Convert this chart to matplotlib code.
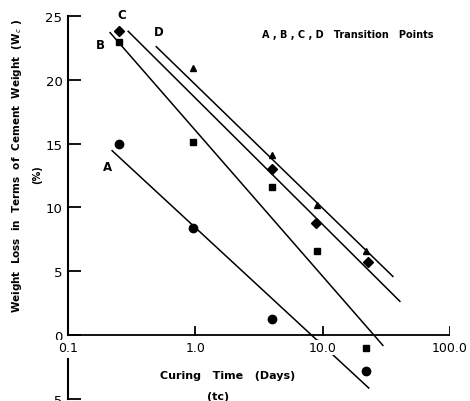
import matplotlib
matplotlib.use("Agg")
import matplotlib.pyplot as plt
import numpy as np

# measured points (curing time in days, weight loss %)
t_a = [0.25, 0.96, 4.0, 9.0, 22.0]
w_a = [15.0, 8.4, 1.3, -0.7, -2.8]
t_b = [0.25, 0.95, 4.0, 9.1, 22.0]
w_b = [23.0, 15.1, 11.6, 6.6, -1.0]
t_c = [0.25, 4.0, 8.9, 22.5]
w_c = [23.8, 13.0, 8.8, 5.7]
t_d = [0.96, 4.0, 9.1, 22.0]
w_d = [20.9, 14.1, 10.2, 6.6]

# fitted lines (end points)
fit_a = ([0.222, 23.0], [14.45, -4.14])
fit_b = ([0.214, 29.7], [23.7, -0.8])
fit_c = ([0.297, 40.4], [23.8, 2.65])
fit_d = ([0.493, 35.6], [22.6, 4.6])

# transition point labels
lab_txt = ["A", "B", "C", "D"]
lab_x = [0.203, 0.179, 0.266, 0.52]
lab_y = [13.2, 22.8, 25.1, 23.8]

xticks = [0.1, 1.0, 10.0, 100.0]
xtick_labels = ["0.1", "1.0", "10.0", "100.0"]
yticks = [-5, 0, 5, 10, 15, 20, 25]

fig = plt.figure(figsize=(4.7, 4.02), dpi=100)
ax = fig.add_axes([0.1447, 0.005, 0.8128, 0.9527])
ax.set_xscale("log")
ax.set_xlim(0.1, 100)
ax.set_ylim(-5, 25)

for fx, fy in [fit_a, fit_b, fit_c, fit_d]:
    ax.plot(fx, fy, color="black", lw=1.1, clip_on=False)

ax.plot(t_a, w_a, "o", color="black", ms=6, clip_on=False)
ax.plot(t_b, w_b, "s", color="black", ms=4.5, clip_on=False)
ax.plot(t_c, w_c, "D", color="black", ms=4.8, clip_on=False)
ax.plot(t_d, w_d, "^", color="black", ms=4.5, clip_on=False)

for s, x, y in zip(lab_txt, lab_x, lab_y):
    ax.text(x, y, s, fontsize=8.5, fontweight="bold", ha="center", va="center")

ax.text(15.7, 23.6, "A , B , C , D   Transition   Points", fontsize=7,
        fontweight="bold", ha="center", va="center")

# axes: left spine with a gap below zero, x axis drawn at y = 0
for side in ["top", "right", "bottom", "left"]:
    ax.spines[side].set_visible(False)
ax.axhline(0, color="black", lw=1.3)
ax.plot([0.1, 0.1], [0, 25], color="black", lw=1.5, clip_on=False)
ax.plot([0.1, 0.1], [-1.9, -5], color="black", lw=1.5, clip_on=False)

ax.set_yticks(yticks)
ax.set_yticklabels([str(v) for v in yticks])
ax.tick_params(axis="y", direction="in", length=9, width=1.3, labelsize=9.5, pad=4)
ax.set_xticks(xticks)
ax.set_xticklabels([])
ax.minorticks_off()
ax.tick_params(axis="x", length=0)
for x in xticks[1:]:
    ax.plot([x, x], [0, 0.6], color="black", lw=1.3)
for x, s in zip(xticks, xtick_labels):
    ax.text(x, -0.45, s, fontsize=9, ha="center", va="top",
            bbox=dict(facecolor="white", edgecolor="none", pad=0.5))

ax.text(1.8, -3.1, "Curing   Time   (Days)", fontsize=8, fontweight="bold",
        ha="center", va="center")
ax.text(1.5, -4.8, "(tc)", fontsize=8, fontweight="bold", ha="center", va="center")

fig.text(0.036, 0.587, "Weight  Loss  in  Terms  of  Cement  Weight  (W$_c$ )",
         rotation=90, fontsize=7.5, fontweight="bold", ha="center", va="center")
fig.text(0.079, 0.565, "(%)", rotation=90, fontsize=7, fontweight="bold",
         ha="center", va="center")

fig.savefig("out.png", dpi=100)
